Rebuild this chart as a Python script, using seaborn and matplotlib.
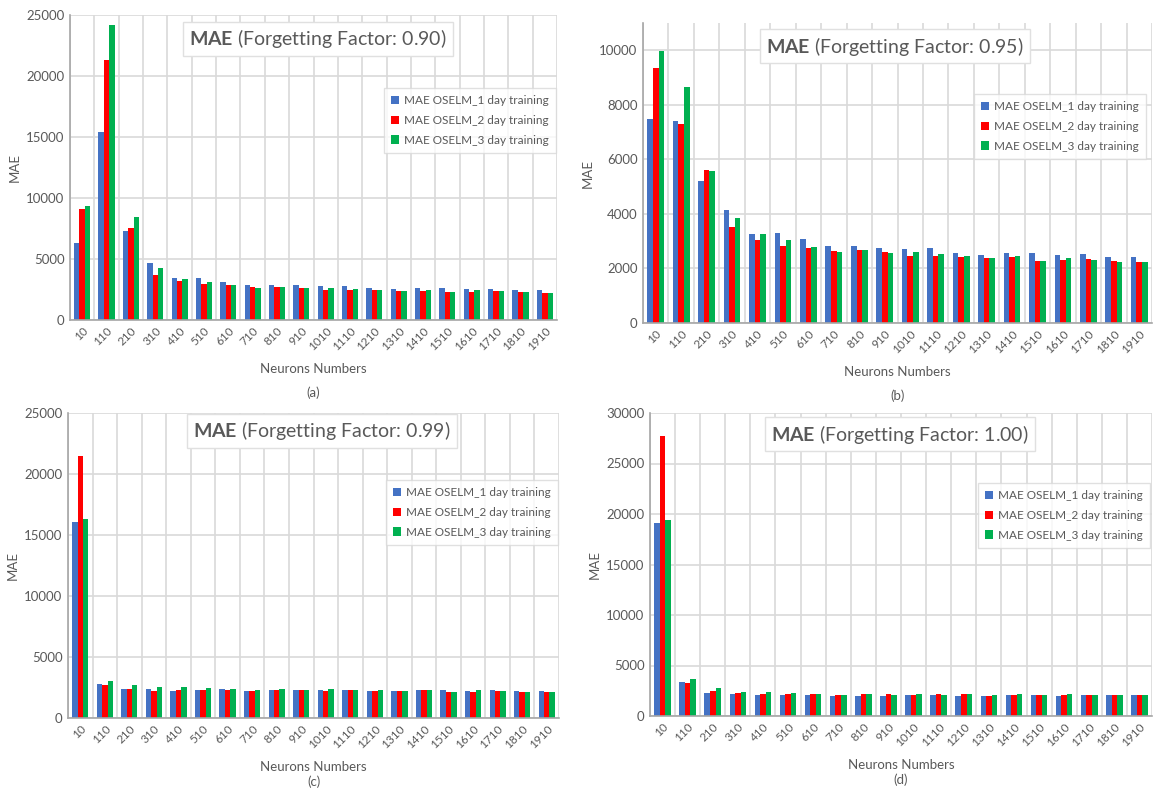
import numpy as np
import pandas as pd
import matplotlib
matplotlib.use("Agg")
import matplotlib.pyplot as plt
import seaborn as sns

# Neurons numbers (x categories)
neurons = [str(n) for n in range(10, 2000, 100)]
series_names = ["MAE OSELM_1 day training", "MAE OSELM_2 day training", "MAE OSELM_3 day training"]

# (a) forgetting factor 0.90
ff090_day1 = [6330, 15380, 7280, 4660, 3410, 3410, 3140, 2890, 2890, 2840, 2760, 2810, 2650, 2540, 2590, 2620, 2510, 2540, 2480, 2460]
ff090_day2 = [9100, 21320, 7500, 3710, 3190, 2920, 2840, 2730, 2730, 2620, 2460, 2460, 2460, 2370, 2400, 2270, 2290, 2350, 2270, 2240]
ff090_day3 = [9380, 24180, 8480, 4280, 3380, 3140, 2840, 2620, 2730, 2620, 2620, 2540, 2460, 2370, 2460, 2270, 2430, 2350, 2270, 2240]

# (b) forgetting factor 0.95
ff095_day1 = [7480, 7390, 5190, 4140, 3270, 3310, 3070, 2820, 2820, 2760, 2700, 2740, 2580, 2510, 2550, 2580, 2480, 2530, 2430, 2430]
ff095_day2 = [9340, 7290, 5610, 3510, 3040, 2830, 2760, 2650, 2660, 2590, 2440, 2440, 2430, 2390, 2420, 2280, 2310, 2330, 2280, 2230]
ff095_day3 = [9960, 8670, 5570, 3850, 3270, 3040, 2780, 2590, 2690, 2580, 2590, 2530, 2470, 2390, 2450, 2280, 2390, 2310, 2230, 2230]

# (c) forgetting factor 0.99
ff099_day1 = [16030, 2780, 2350, 2370, 2240, 2320, 2350, 2240, 2290, 2270, 2290, 2320, 2240, 2210, 2320, 2320, 2210, 2290, 2240, 2240]
ff099_day2 = [21460, 2670, 2350, 2240, 2270, 2320, 2270, 2240, 2320, 2290, 2210, 2270, 2240, 2210, 2270, 2160, 2160, 2180, 2160, 2130]
ff099_day3 = [16280, 3030, 2700, 2570, 2540, 2480, 2400, 2290, 2370, 2290, 2370, 2290, 2290, 2210, 2290, 2160, 2270, 2180, 2130, 2130]

# (d) forgetting factor 1.00
ff100_day1 = [19140, 3340, 2320, 2220, 2080, 2120, 2080, 2020, 2020, 1990, 2080, 2080, 2020, 2020, 2080, 2080, 2020, 2120, 2080, 2080]
ff100_day2 = [27690, 3240, 2480, 2280, 2150, 2180, 2150, 2080, 2150, 2180, 2080, 2150, 2150, 2020, 2120, 2080, 2050, 2120, 2080, 2050]
ff100_day3 = [19430, 3670, 2780, 2410, 2350, 2280, 2180, 2080, 2150, 2080, 2180, 2080, 2150, 2080, 2180, 2080, 2150, 2080, 2080, 2050]

panels = [
    ("0.90", "(a)", [ff090_day1, ff090_day2, ff090_day3], 25000, 25000, 5000),
    ("0.95", "(b)", [ff095_day1, ff095_day2, ff095_day3], 11000, 10000, 2000),
    ("0.99", "(c)", [ff099_day1, ff099_day2, ff099_day3], 25000, 25000, 5000),
    ("1.00", "(d)", [ff100_day1, ff100_day2, ff100_day3], 30000, 30000, 5000),
]

# axes rectangles in pixels: left, top, right, bottom
rects_px = [(70, 15, 557, 320), (643, 23, 1152, 323), (68, 413, 559, 718), (650, 413, 1152, 716)]
title_px = [(318, 39), (895, 46), (322, 431), (900, 434)]
legend_px = [(378, 82), (968, 88), (380, 474), (972, 477)]

colors = ["#4472C4", "#FF0000", "#00B050"]
text_gray = "#595959"
grid_gray = "#D9D9D9"

sns.set_theme(style="white")
plt.rcParams["font.family"] = ["Lato", "DejaVu Sans"]
plt.rcParams["mathtext.fontset"] = "custom"
plt.rcParams["mathtext.bf"] = "Lato:bold"
plt.rcParams["mathtext.rm"] = "Lato"

W, H = 1159, 790
fig = plt.figure(figsize=(W / 100, H / 100), dpi=100)

for (ff, tag, vals, ymax, ytop, ystep), (l, t, r, b), (tx, ty), (lx, ly) in zip(panels, rects_px, title_px, legend_px):
    ax = fig.add_axes([l / W, 1 - b / H, (r - l) / W, (b - t) / H])
    df = pd.DataFrame({
        "Neurons": neurons * 3,
        "MAE": vals[0] + vals[1] + vals[2],
        "Series": [s for s in series_names for _ in neurons],
    })
    sns.barplot(data=df, x="Neurons", y="MAE", hue="Series", palette=colors,
                width=0.66, ax=ax, saturation=1, edgecolor="none")
    ax.set_ylim(0, ymax)
    ax.set_yticks(np.arange(0, ytop + 1, ystep))
    ax.set_xlim(-0.5, len(neurons) - 0.5)
    # Excel-like vertical gridlines between categories
    ax.set_xticks(np.arange(-0.5, len(neurons), 1), minor=True)
    ax.grid(axis="y", which="major", color=grid_gray, linewidth=1.2)
    ax.grid(axis="x", which="minor", color=grid_gray, linewidth=1.2)
    ax.set_axisbelow(True)
    ax.tick_params(axis="x", which="both", length=0)
    ax.tick_params(axis="y", length=0, labelsize=9.5, labelcolor=text_gray, pad=4)
    plt.setp(ax.get_xticklabels(), rotation=45, ha="right", rotation_mode="anchor",
             fontsize=8.5, color=text_gray)
    for side in ["top", "right"]:
        ax.spines[side].set_visible(False)
    for side in ["left", "bottom"]:
        ax.spines[side].set_color("#A6A6A6")
        ax.spines[side].set_linewidth(1.2)
    ax.set_ylabel("MAE", fontsize=9.5, color=text_gray)
    ax.set_xlabel("Neurons Numbers", fontsize=9.5, color=text_gray, labelpad=8)

    ax.legend(title=None, loc="upper left", bbox_to_anchor=(lx / W, 1 - ly / H),
              bbox_transform=fig.transFigure, fontsize=8.5, frameon=True,
              edgecolor=grid_gray, fancybox=False, handlelength=0.7, handleheight=0.7,
              handletextpad=0.4, labelspacing=0.75, borderpad=0.6, labelcolor=text_gray)

    fig.text(tx / W, 1 - ty / H, r"$\bf{MAE}$ (Forgetting Factor: " + ff + ")",
             ha="center", va="center", fontsize=14, color=text_gray,
             bbox=dict(facecolor="white", edgecolor="#E0E0E0", boxstyle="square,pad=0.3"))
    fig.text(((l + r) / 2) / W, 1 - (b + 73) / H if t < 100 else 1 - (b + 64) / H, tag,
             ha="center", va="center", fontsize=9.5, color=text_gray)

fig.savefig("out.png", dpi=100, facecolor="white")
